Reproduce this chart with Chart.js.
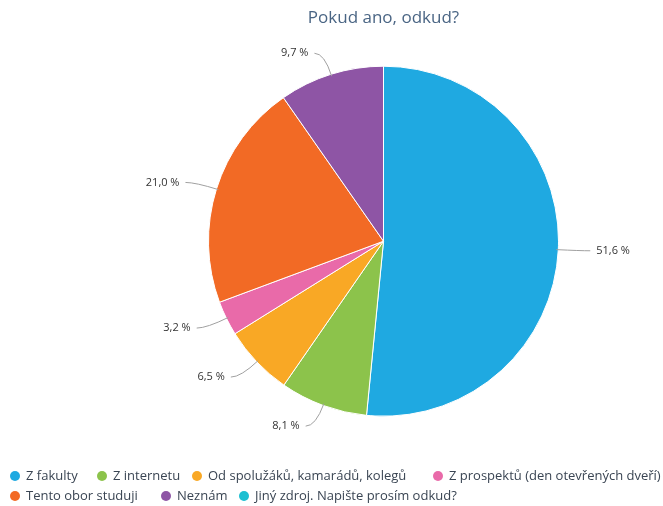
<!DOCTYPE html>
<html>
<head>
<meta charset="utf-8">
<script src="https://cdn.jsdelivr.net/npm/chart.js@4.4.0/dist/chart.umd.min.js"></script>
<style>
  html, body { margin: 0; padding: 0; background: #fff; }
  #wrap { width: 663px; height: 506px; }
</style>
</head>
<body>
<div id="wrap"><canvas id="pieChart"></canvas></div>
<script>
// data
const categories = ['Z fakulty', 'Z internetu', 'Od spolužáků, kamarádů, kolegů', 'Z prospektů (den otevřených dveří)', 'Tento obor studuji', 'Neznám', 'Jiný zdroj. Napište prosím odkud?'];
const percents = [51.6, 8.1, 6.5, 3.2, 21.0, 9.7, 0];
const colors = ['#1fa9e1', '#8cc34b', '#f9a825', '#e96aa9', '#f26a25', '#8e55a5', '#1cbfd1'];

// leader lines + outside labels
const outsideLabels = {
    id: 'outsideLabels',
    afterDatasetsDraw(chart) {
        const ctx = chart.ctx;
        const meta = chart.getDatasetMeta(0);
        ctx.save();
        ctx.font = '11px "Open Sans"';
        ctx.textBaseline = 'middle';
        meta.data.forEach((arc, i) => {
            if (!percents[i]) return;
            const mid = (arc.startAngle + arc.endAngle) / 2;
            const r = arc.outerRadius;
            const x1 = arc.x + Math.cos(mid) * (r - 2);
            const y1 = arc.y + Math.sin(mid) * (r - 2);
            const x2 = arc.x + Math.cos(mid) * (r + 22);
            const y2 = arc.y + Math.sin(mid) * (r + 22);
            const right = Math.cos(mid) >= 0;
            const x3 = x2 + (right ? 10 : -10);
            ctx.strokeStyle = '#a0a0a0';
            ctx.lineWidth = 1;
            ctx.beginPath();
            ctx.moveTo(x1, y1);
            ctx.quadraticCurveTo(x2, y2, x3, y2);
            ctx.stroke();
            ctx.fillStyle = '#333';
            ctx.textAlign = right ? 'left' : 'right';
            const txt = percents[i].toFixed(1).replace('.', ',') + ' %';
            ctx.fillText(txt, x3 + (right ? 6 : -6), y2);
        });
        ctx.restore();
    }
};

// legend drawn by hand so it can use the full width (pie is off centre)
const legendX = [15, 102, 197, 438, 15, 166, 244];
const legendRow = [0, 0, 0, 0, 1, 1, 1];
const bottomLegend = {
    id: 'bottomLegend',
    afterDraw(chart) {
        const ctx = chart.ctx;
        ctx.save();
        ctx.font = '13px "Open Sans"';
        ctx.textBaseline = 'middle';
        ctx.textAlign = 'left';
        categories.forEach((name, i) => {
            const x = legendX[i];
            const y = 476 + legendRow[i] * 20;
            ctx.fillStyle = colors[i];
            ctx.beginPath();
            ctx.arc(x, y, 5, 0, Math.PI * 2);
            ctx.fill();
            ctx.fillStyle = '#3a4553';
            ctx.fillText(name, x + 11, y);
        });
        ctx.restore();
    }
};

const ctx = document.getElementById('pieChart').getContext('2d');
const pieChart = new Chart(ctx, {
    type: 'pie',
    data: {
        labels: categories,
        datasets: [{
            data: percents,
            backgroundColor: colors,
            borderColor: '#ffffff',
            borderWidth: 1
        }]
    },
    options: {
        responsive: true,
        maintainAspectRatio: false,
        animation: false,
        radius: 175,
        layout: {
            padding: { left: 112, right: 8, top: 0, bottom: 68 }
        },
        plugins: {
            title: {
                display: true,
                text: 'Pokud ano, odkud?',
                color: '#4a6584',
                font: { family: 'Open Sans', size: 17, weight: 'normal' },
                padding: { top: 8, bottom: 16 }
            },
            legend: { display: false },
            tooltip: { enabled: false }
        }
    },
    plugins: [outsideLabels, bottomLegend]
});
</script>
</body>
</html>
